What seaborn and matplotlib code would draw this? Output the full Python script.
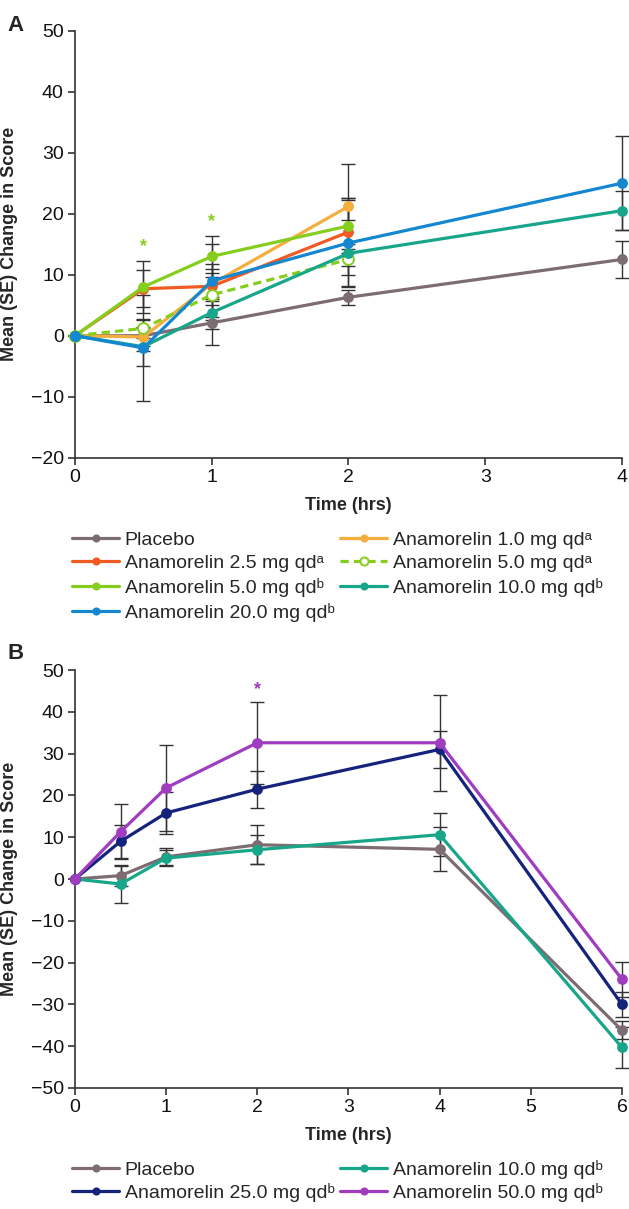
import numpy as np
import pandas as pd
import seaborn as sns
import matplotlib.pyplot as plt

sns.set_style("ticks")
plt.rcParams['font.family'] = ['Liberation Sans', 'DejaVu Sans']
plt.rcParams['axes.unicode_minus'] = True

# ---- panel A data ----
time_a = [0, 0.5, 1, 2, 4]
placebo_a = [0, 0.0, 2.1, 6.3, 12.5]
placebo_a_se = [0, 2.5, 3.6, 1.2, 3.0]
ana1_a = [0, -0.2, 8.5, 21.2]
ana1_a_se = [0, 1.5, 2.5, 7.0]
ana25_a = [0, 7.7, 8.1, 17.0]
ana25_a_se = [0, 3.0, 7.0, 5.5]
ana5b_a = [0, 8.0, 13.0, 18.0]
ana5b_a_se = [0, 4.3, 3.4, 4.5]
ana5a_a = [0, 1.2, 6.7, 12.5]
ana5a_a_se = [0, 1.5, 3.6, 2.5]
ana10_a = [0, -1.8, 3.8, 13.5, 20.5]
ana10_a_se = [0, 3.2, 1.3, 5.5, 3.2]
ana20_a = [0, -2.0, 9.0, 15.2, 25.0]
ana20_a_se = [0, 8.7, 2.7, 7.0, 7.7]

# ---- panel B data ----
time_b = [0, 0.5, 1, 2, 4, 6]
placebo_b = [0, 0.8, 5.3, 8.2, 7.1, -36.2]
placebo_b_se = [0, 2.4, 2.0, 4.7, 5.3, 2.2]
ana10_b = [0, -1.2, 5.0, 7.0, 10.6, -40.3]
ana10_b_se = [0, 4.6, 2.0, 3.5, 5.1, 5.0]
ana25_b = [0, 9.0, 15.8, 21.5, 31.0, -30.0]
ana25_b_se = [0, 4.0, 5.0, 4.4, 4.5, 3.0]
ana50_b = [0, 11.3, 21.8, 32.6, 32.6, -24.0]
ana50_b_se = [0, 6.6, 10.2, 9.8, 11.5, 4.2]

GRAY = '#7d6d73'
YEL = '#f4ae3d'
RED = '#f15a22'
LIME = '#86ce1e'
BLUE = '#1487d0'
TEAL = '#17a68a'
NAVY = '#15237d'
PURP = '#a03cc0'
INK = '#333333'

fig = plt.figure(figsize=(6.29, 12.09), dpi=100)
axA = fig.add_axes([0.1192, 0.6214, 0.8696, 0.3532])
axB = fig.add_axes([0.1192, 0.1001, 0.8696, 0.3457])


def series(ax, t, y, se, color, label, dashed=False, open_marker=False):
    n = len(y)
    df = pd.DataFrame({'time': t[:n], 'score': y})
    sns.lineplot(data=df, x='time', y='score', ax=ax, color=color, lw=2.3,
                 marker='o', markersize=7.8, sort=False, errorbar=None,
                 linestyle=(0, (2.6, 1.6)) if dashed else '-',
                 markerfacecolor='white' if open_marker else color,
                 markeredgecolor=color, markeredgewidth=1.4 if open_marker else 0,
                 label=label, clip_on=False, zorder=3)
    ax.errorbar(t[1:n], y[1:], yerr=se[1:], fmt='none', ecolor=INK,
                elinewidth=1.0, capsize=5, capthick=1.0, zorder=2, clip_on=False)


sup_a = ' qd\u1d43'
sup_b = ' qd\u1d47'

series(axA, time_a, placebo_a, placebo_a_se, GRAY, 'Placebo')
series(axA, time_a, ana1_a, ana1_a_se, YEL, 'Anamorelin 1.0 mg' + sup_a)
series(axA, time_a, ana25_a, ana25_a_se, RED, 'Anamorelin 2.5 mg' + sup_a)
series(axA, time_a, ana5a_a, ana5a_a_se, LIME, 'Anamorelin 5.0 mg' + sup_a, dashed=True, open_marker=True)
series(axA, time_a, ana5b_a, ana5b_a_se, LIME, 'Anamorelin 5.0 mg' + sup_b)
series(axA, time_a, ana10_a, ana10_a_se, TEAL, 'Anamorelin 10.0 mg' + sup_b)
series(axA, time_a, ana20_a, ana20_a_se, BLUE, 'Anamorelin 20.0 mg' + sup_b)

series(axB, time_b, placebo_b, placebo_b_se, GRAY, 'Placebo')
series(axB, time_b, ana10_b, ana10_b_se, TEAL, 'Anamorelin 10.0 mg' + sup_b)
series(axB, time_b, ana25_b, ana25_b_se, NAVY, 'Anamorelin 25.0 mg' + sup_b)
series(axB, time_b, ana50_b, ana50_b_se, PURP, 'Anamorelin 50.0 mg' + sup_b)

# significance stars
axA.text(0.5, 14.6, '*', color=LIME, fontsize=13, ha='center', va='center', fontweight='bold')
axA.text(1, 18.7, '*', color=LIME, fontsize=13, ha='center', va='center', fontweight='bold')
axB.text(2, 45.2, '*', color=PURP, fontsize=13, ha='center', va='center', fontweight='bold')

for ax, xmax, ylo, yhi, ystep in [(axA, 4, -20, 50, 10), (axB, 6, -50, 50, 10)]:
    ax.set_xlim(0, xmax)
    ax.set_ylim(ylo, yhi)
    ax.set_xticks(range(0, xmax + 1))
    ax.set_yticks(np.arange(ylo, yhi + 1, ystep))
    sns.despine(ax=ax)
    for s in ['left', 'bottom']:
        ax.spines[s].set_color(INK)
        ax.spines[s].set_linewidth(1.2)
    ax.tick_params(direction='out', length=5, width=1.2, color=INK,
                   labelsize=14, labelcolor='#111111', pad=3)
    ax.set_xlabel('Time (hrs)', fontsize=13, fontweight='bold', labelpad=8)
    ax.set_ylabel('Mean (SE) Change in Score', fontsize=13, fontweight='bold')
    ax.yaxis.set_label_coords(-0.105, 0.5)

# legends (column-major order)
hA, lA = axA.get_legend_handles_labels()
idx_a = {l: h for h, l in zip(hA, lA)}
order_a = ['Placebo', 'Anamorelin 2.5 mg' + sup_a, 'Anamorelin 5.0 mg' + sup_b,
           'Anamorelin 20.0 mg' + sup_b, 'Anamorelin 1.0 mg' + sup_a,
           'Anamorelin 5.0 mg' + sup_a, 'Anamorelin 10.0 mg' + sup_b]
axA.legend([idx_a[l] for l in order_a], order_a, loc='upper left',
           bbox_to_anchor=(-0.005, -0.172), ncol=2, frameon=False, fontsize=14,
           handlelength=2.4, handletextpad=0.3, columnspacing=0.3,
           labelspacing=0.3, borderaxespad=0, borderpad=0, markerscale=0.75)

hB, lB = axB.get_legend_handles_labels()
idx_b = {l: h for h, l in zip(hB, lB)}
order_b = ['Placebo', 'Anamorelin 25.0 mg' + sup_b,
           'Anamorelin 10.0 mg' + sup_b, 'Anamorelin 50.0 mg' + sup_b]
axB.legend([idx_b[l] for l in order_b], order_b, loc='upper left',
           bbox_to_anchor=(-0.005, -0.172), ncol=2, frameon=False, fontsize=14,
           handlelength=2.4, handletextpad=0.3, columnspacing=0.3,
           labelspacing=0.2, borderaxespad=0, borderpad=0, markerscale=0.75)

fig.text(0.012, 0.988, 'A', fontsize=16, fontweight='bold', va='top', ha='left')
fig.text(0.012, 0.468, 'B', fontsize=16, fontweight='bold', va='top', ha='left')

fig.savefig('out.png', dpi=100)
